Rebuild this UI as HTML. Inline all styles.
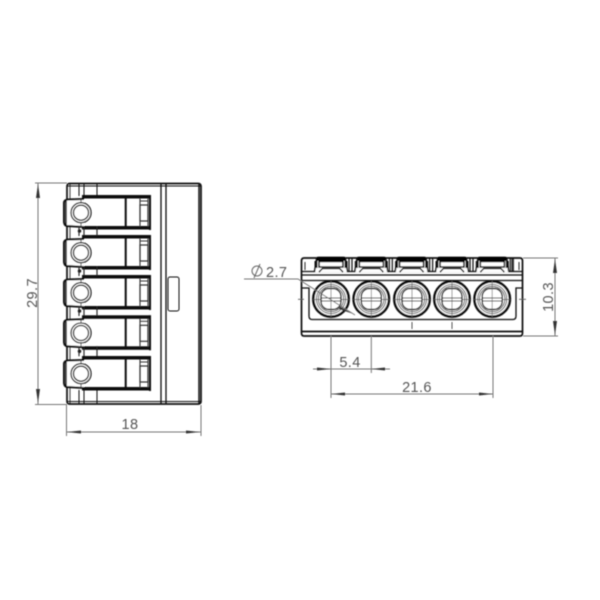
<!DOCTYPE html>
<html>
<head>
<meta charset="utf-8">
<style>
html,body{margin:0;padding:0;background:#fff;width:600px;height:600px;overflow:hidden}
svg{display:block}
text{font-family:"Liberation Sans",sans-serif;fill:#555;font-size:14.500px;letter-spacing:.4px}
</style>
</head>
<body>
<svg width="600" height="600" viewBox="0 0 600 600" xmlns="http://www.w3.org/2000/svg">
<defs>
<filter id="b" x="-5%" y="-5%" width="110%" height="110%"><feGaussianBlur stdDeviation="0.4"/></filter>
<g id="row" fill="none" stroke="#111">
  <rect x="82" y="195" width="69" height="3.500" fill="#111" stroke="none"/>
  <rect x="82" y="226" width="69" height="3.500" fill="#111" stroke="none"/>
  <path d="M150 195V230" stroke-width="2"/>
  <path d="M125.700 198V227" stroke-width="2"/>
  <path d="M140 198V227M148 198V227" stroke-width="1.100" stroke="#333"/>
  <rect x="140" y="205" width="8" height="16" stroke-width="1.200" stroke="#333"/>
  <path d="M140 201H148" stroke-width="1" stroke="#333"/>
  <path d="M84 199L68 199.500Q64 200 64 203V222Q64.300 225.500 67 226L84 227" fill="#fff" stroke-width="2"/>
  <path d="M66 201V225" stroke-width="1.600"/>
  <circle cx="81" cy="212.700" r="10" fill="#fff" stroke-width="1.300"/>
  <circle cx="81" cy="212.700" r="7.500" fill="#fff" stroke-width="1.300"/>
  <path d="M81 198V203M81 222V228" stroke-width="1" stroke="#333"/>
</g>
<g id="sep" fill="none" stroke="#222">
  <path d="M79 226V236M84 226V236M97 226V236" stroke-width="1.100"/>
  <circle cx="79.500" cy="231" r="1.800" fill="#222" stroke="none"/>
</g>
<g id="tab" fill="none" stroke="#111">
  <path d="M314.500 272L316.500 259Q317 257.500 319 257.500H343Q345 257.500 345.500 259L347.500 272" fill="#fff" stroke-width="1.500"/>
  <path d="M319 261.500H343V267H319Z" stroke-width="1.600" fill="#fff"/>
  <rect x="317" y="256.800" width="28" height="4.200" fill="#000" stroke="none"/>
  <path d="M316 261V268M346 261V268" stroke-width="3"/>
  <path d="M319 272L322.500 268.500H339.500L343 272" stroke-width="1.400" fill="#fff"/>
  <path d="M349 258V272M352 258V272" stroke-width="1.200"/>
</g>
<g id="hole" fill="none" stroke="#111">
  <circle r="17.700" fill="#fff" stroke-width="2.600"/>
  <circle r="14.500" stroke-width=".8"/>
  <circle r="12.700" stroke-width=".8"/>
  <rect x="-10" y="-10.500" width="20" height="21" rx="8" stroke-width="1.400"/>
  <path d="M-10 -1H10M-10 2H10" stroke-width="1" stroke="#333"/>
  <path d="M-18 0.500H-10M10 0.500H18" stroke-width=".8" stroke="#555"/>
  <path d="M0 -18V18" stroke-width=".7" stroke="#666"/>
</g>
</defs>
<g filter="url(#b)">
  <!-- left view body -->
  <g fill="none" stroke="#111">
    <rect x="67" y="183.500" width="134" height="220.500" rx="2.500" stroke-width="1.700"/>
    <path d="M67 186H201M67 401.500H201" stroke-width="1"/>
    <path d="M199 184V404" stroke-width="1.500"/>
    <path d="M161 184V404M166 184V404" stroke-width="1.300"/>
    <path d="M79 184V196M84 184V196M97 184V196" stroke-width="1"/>
    <path d="M79 390V404M84 390V404M97 390V404" stroke-width="1"/>
    <path d="M70 184V404" stroke-width=".8"/>
    <rect x="168" y="277" width="11" height="34" rx="2" stroke-width="1"/>
  </g>
  <use href="#row"/>
  <use href="#row" y="40"/>
  <use href="#row" y="80"/>
  <use href="#row" y="120.300"/>
  <use href="#row" y="161"/>
  <use href="#sep"/>
  <use href="#sep" y="40"/>
  <use href="#sep" y="80"/>
  <use href="#sep" y="120.300"/>

  <!-- right view body -->
  <g fill="none" stroke="#111">
    <path d="M304 258H520Q522.500 258 522.500 261V333Q522.500 336 520 336H304Q301.500 336 301.500 333V261Q301.500 258 304 258Z" stroke-width="1.700"/>
    <path d="M302 271.500H522M302 275H522" stroke-width="1.200"/>
    <path d="M302 280.500H522" stroke-width="1.300"/>
    <path d="M302 331.500H522" stroke-width="1.700"/>
    <path d="M302 288H309V316Q309 319.500 312 319.500H513Q516 319.500 516 316V288H522" stroke-width="1.300"/>
    <path d="M305 262V270M519 262V270" stroke-width=".9"/>
    <path d="M412 322V329M452 322V329" stroke="#444" stroke-width=".9"/>
  </g>
  <use href="#tab"/>
  <use href="#tab" x="40.300"/>
  <use href="#tab" x="80.600"/>
  <use href="#tab" x="121"/>
  <use href="#tab" x="161.300"/>
  <path d="M512 258V272" stroke="#111" stroke-width="1" fill="none"/>
  <use href="#hole" x="331" y="299"/>
  <use href="#hole" x="371.300" y="299"/>
  <use href="#hole" x="412" y="299"/>
  <use href="#hole" x="452" y="299"/>
  <use href="#hole" x="492.200" y="299"/>
  <path d="M298 299.300H304M519 299.300H526" stroke="#555" stroke-width=".8"/>

  <!-- dimensions -->
  <g fill="none" stroke="#777" stroke-width="1">
    <path d="M35 183H67M35 404.500H67M38 183V404"/>
    <path d="M66.500 405V436M201 405V436M66.500 432H201"/>
    <path d="M331 336V398M371.300 336V373M493 336V398"/>
    <path d="M313 369H390M331 394H493"/>
    <path d="M523 258H558M523 336H558M555 258V336"/>
    <path d="M244 279H298L355 315"/>
  </g>
  <g fill="#333">
    <path d="M38 184L36 198H40Z"/>
    <path d="M38 403L36 389H40Z"/>
    <path d="M67 432L81 430.500V433.500Z"/>
    <path d="M200 432L186 430.500V433.500Z"/>
    <path d="M331 369L317 367.500V370.500Z"/>
    <path d="M371.300 369L385 367.500V370.500Z"/>
    <path d="M331.500 394L345 392.500V395.500Z"/>
    <path d="M492.500 394L479 392.500V395.500Z"/>
    <path d="M555 259L553 273H557Z"/>
    <path d="M555 335L553 321H557Z"/>
    <path d="M352 313.500L340 306.500L338.500 309Z"/>
  </g>
  <text x="130" y="429" text-anchor="middle">18</text>
  <text transform="translate(37 293) rotate(-90)" text-anchor="middle">29.7</text>
  <text x="350" y="367" text-anchor="middle">5.4</text>
  <text x="417" y="392" text-anchor="middle">21.6</text>
  <text transform="translate(553 297) rotate(-90)" text-anchor="middle">10.3</text>
  <text x="266" y="277">2.7</text>
  <circle cx="257" cy="271" r="5" fill="none" stroke="#666" stroke-width="1"/>
  <path d="M254 278L260 264" stroke="#666" stroke-width="1"/>
</g>
</svg>
</body>
</html>
